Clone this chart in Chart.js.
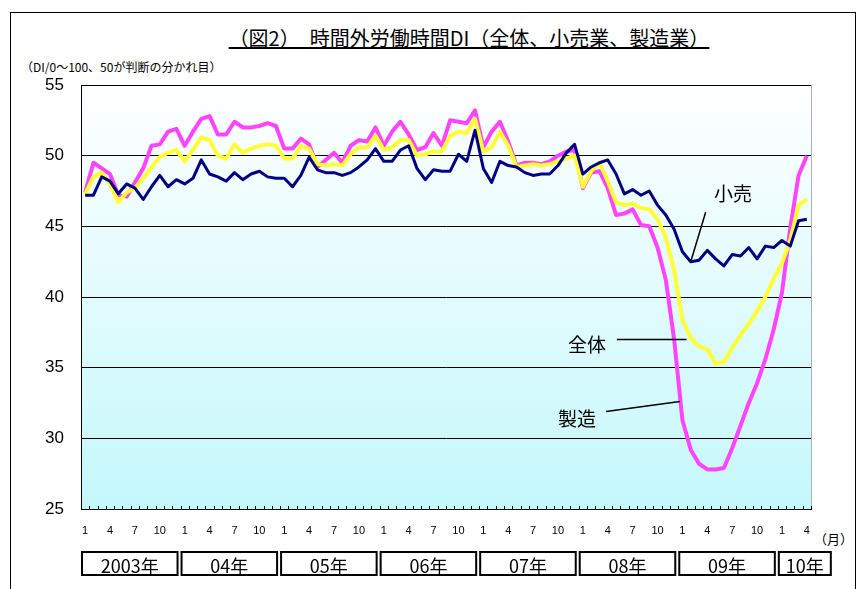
<!DOCTYPE html>
<html lang="ja">
<head>
<meta charset="UTF-8">
<title>時間外労働時間DI</title>
<script src="https://cdn.jsdelivr.net/npm/chart.js@4.4.1/dist/chart.umd.min.js"></script>
<style>
  html, body { margin: 0; padding: 0; background: #fff; }
  body { width: 861px; height: 589px; position: relative; overflow: hidden; font-family: "Noto Sans CJK JP", sans-serif; }
  #frame { position: absolute; left: 10px; top: 12px; width: 846px; height: 600px; border: 1px solid #000; border-bottom: none; box-sizing: border-box; }
  #title { position: absolute; left: 0; width: 938px; top: 25px; text-align: center; font-size: 20px; line-height: 26px; text-decoration: underline; color: #000; }
  #sub { position: absolute; left: 21px; top: 59px; font-size: 12px; line-height: 16px; color: #000; }
  #unit { position: absolute; left: 814px; top: 529px; font-size: 13px; color: #000; }
  canvas { position: absolute; left: 0; top: 0; }
</style>
</head>
<body>
<div id="frame"></div>
<div id="title">（図2）　時間外労働時間DI（全体、小売業、製造業）</div>
<div id="sub">（DI/0～100、50が判断の分かれ目）</div>
<div id="unit">（月）</div>
<canvas id="di-chart" width="861" height="589"></canvas>

<script>
  // 年の区切り（2003年1月〜2010年4月）
  const years = ['2003年', '04年', '05年', '06年', '07年', '08年', '09年', '10年'];
  const monthsInYear = [12, 12, 12, 12, 12, 12, 12, 4];
  const monthTicks = ['1', '4', '7', '10'];

  // 小売
  const retail = [
    47.2, 47.2, 48.5, 48.2, 47.3, 48.0, 47.7, 46.9, 47.8, 48.6, 47.8, 48.3,
    48.0, 48.4, 49.7, 48.7, 48.5, 48.2, 48.8, 48.3, 48.7, 48.9, 48.5, 48.4,
    48.4, 47.8, 48.6, 49.9, 49.0, 48.8, 48.8, 48.6, 48.8, 49.2, 49.7, 50.5,
    49.6, 49.6, 50.4, 50.7, 49.1, 48.3, 49.0, 48.9, 48.9, 50.1, 49.6, 51.8,
    49.1, 48.1, 49.6, 49.3, 49.2, 48.8, 48.6, 48.7, 48.7, 49.3, 50.2, 50.8,
    48.7, 49.2, 49.5, 49.7, 48.7, 47.3, 47.6, 47.2, 47.5, 46.5, 45.8, 44.8,
    43.2, 42.5, 42.6, 43.3, 42.7, 42.2, 43.0, 42.9, 43.5, 42.7, 43.6, 43.5,
    44.0, 43.6, 45.4, 45.5
  ];
  // 全体
  const overall = [
    47.3, 48.5, 48.8, 48.0, 46.7, 47.4, 47.7, 48.4, 49.2, 49.9, 50.2, 50.4,
    49.6, 50.4, 51.3, 51.1, 50.0, 49.8, 50.8, 50.2, 50.5, 50.7, 50.8, 50.7,
    49.8, 49.8, 50.7, 50.5, 49.4, 49.3, 49.4, 49.3, 50.1, 50.6, 50.6, 51.4,
    50.4, 50.6, 51.1, 51.1, 50.0, 50.1, 50.3, 50.3, 51.4, 51.7, 51.6, 52.6,
    50.3, 50.6, 51.7, 50.7, 49.2, 49.3, 49.4, 49.3, 49.4, 49.6, 49.8, 50.0,
    47.8, 48.9, 49.5, 48.2, 46.7, 46.5, 46.6, 46.3, 46.2, 45.5, 44.2, 41.9,
    38.4, 37.1, 36.5, 36.3, 35.3, 35.4, 36.4, 37.3, 38.1, 39.0, 40.0, 41.3,
    42.4, 44.0, 46.5, 46.9
  ];
  // 製造
  const manufacturing = [
    47.4, 49.5, 49.1, 48.7, 47.2, 47.1, 48.1, 49.1, 50.7, 50.8, 51.7, 51.9,
    50.7, 51.7, 52.6, 52.8, 51.5, 51.5, 52.4, 52.0, 52.0, 52.1, 52.3, 52.1,
    50.5, 50.5, 51.2, 50.8, 49.2, 49.7, 50.2, 49.5, 50.7, 51.1, 51.0, 52.0,
    50.7, 51.7, 52.4, 51.5, 50.4, 50.6, 51.6, 50.7, 52.5, 52.4, 52.3, 53.2,
    50.6, 51.7, 52.4, 51.0, 49.3, 49.5, 49.5, 49.4, 49.6, 50.0, 50.3, 50.4,
    47.7, 48.8, 48.9, 47.7, 45.8, 45.9, 46.2, 45.1, 45.0, 43.5, 41.2, 37.0,
    31.3, 29.2, 28.2, 27.8, 27.8, 27.9, 29.3, 30.9, 32.5, 33.9, 35.6, 37.7,
    40.3, 44.9, 48.6, 50.0
  ];

  // 月ラベル
  const labels = [];
  monthsInYear.forEach((n) => {
    for (let m = 1; m <= n; m++) labels.push(String(m));
  });

  // 系列名の吹き出し（引き出し線の始点・終点・文字位置は index/値 で指定）
  const callouts = [
    { text: '小売', from: [73, 42.5], to: [74.8, 46.0], at: [78.1, 47.3] },
    { text: '全体', from: [72.5, 37.0], to: [64.1, 37.0], at: [60.5, 36.6] },
    { text: '製造', from: [71.7, 32.6], to: [62.8, 31.9], at: [59.3, 31.4] },
  ];

  const areaPlugin = {
    id: 'area',
    beforeDatasetsDraw(chart) {
      const { ctx, chartArea: a } = chart;
      const g = ctx.createLinearGradient(0, a.top, 0, a.bottom);
      g.addColorStop(0, '#ffffff');
      g.addColorStop(1, '#c4f8fb');
      ctx.save();
      ctx.globalCompositeOperation = 'destination-over';
      ctx.fillStyle = g;
      ctx.fillRect(a.left, a.top, a.right - a.left, a.bottom - a.top);
      ctx.restore();
    },
    afterDatasetsDraw(chart) {
      const { ctx, chartArea: a, scales } = chart;
      const x = scales.x, y = scales.y;
      const cat = (a.right - a.left) / labels.length;
      const px = (i) => a.left + cat * (i + 0.5);
      ctx.save();
      // 右枠
      ctx.strokeStyle = '#b0b0b0';
      ctx.lineWidth = 1;
      ctx.beginPath();
      ctx.moveTo(a.right + 0.5, a.top);
      ctx.lineTo(a.right + 0.5, a.bottom);
      ctx.stroke();
      // 目盛り
      ctx.strokeStyle = '#000';
      ctx.beginPath();
      for (let i = 0; i <= labels.length; i++) {
        const xx = Math.round(a.left + cat * i) + 0.5;
        ctx.moveTo(xx, a.bottom);
        ctx.lineTo(xx, a.bottom - 3);
      }
      ctx.stroke();
      // 吹き出し
      ctx.lineWidth = 1.5;
      ctx.font = '19px "Noto Sans CJK JP"';
      ctx.fillStyle = '#000';
      ctx.textAlign = 'center';
      ctx.textBaseline = 'middle';
      callouts.forEach((c) => {
        ctx.beginPath();
        ctx.moveTo(px(c.from[0]), y.getPixelForValue(c.from[1]));
        ctx.lineTo(px(c.to[0]), y.getPixelForValue(c.to[1]));
        ctx.stroke();
        ctx.fillText(c.text, px(c.at[0]), y.getPixelForValue(c.at[1]));
      });
      ctx.restore();
    },
    afterDraw(chart) {
      const { ctx, chartArea: a } = chart;
      const cat = (a.right - a.left) / labels.length;
      ctx.save();
      ctx.strokeStyle = '#000';
      ctx.lineWidth = 2;
      ctx.font = '18px "Noto Sans CJK JP"';
      ctx.fillStyle = '#000';
      ctx.textAlign = 'center';
      ctx.textBaseline = 'alphabetic';
      let start = 0;
      years.forEach((yr, k) => {
        const left = a.left + cat * start;
        const w = Math.max(cat * monthsInYear[k], 56);
        const top = 552, h = 23;
        ctx.strokeRect(left + 1, top, w - 4, h);
        ctx.fillText(yr, left + w / 2 - 1, top + h - 2);
        start += monthsInYear[k];
      });
      ctx.restore();
    },
  };

  const ctx = document.getElementById('di-chart').getContext('2d');
  new Chart(ctx, {
    type: 'line',
    data: {
      labels,
      datasets: [
        { label: '小売', data: retail, borderColor: '#000080', borderWidth: 3, order: 0 },
        { label: '全体', data: overall, borderColor: '#ffff33', borderWidth: 4, order: 1 },
        { label: '製造', data: manufacturing, borderColor: '#ff44ff', borderWidth: 4, order: 2 },
      ].map((d) => ({ ...d, pointRadius: 0, tension: 0, fill: false, borderJoinStyle: 'round' })),
    },
    options: {
      responsive: false,
      animation: false,
      layout: { padding: { top: 85, right: 50, left: 0, bottom: 0 } },
      plugins: {
        legend: { display: false },
        tooltip: { enabled: false },
      },
      scales: {
        x: {
          offset: true,
          grid: { display: false, drawTicks: false },
          border: { color: '#000', width: 1 },
          afterFit: (s) => { s.height = 80; },
          ticks: {
            autoSkip: false,
            maxRotation: 0,
            padding: 15,
            color: '#000',
            font: { size: 11, family: 'Liberation Sans' },
            callback(val) {
              const l = this.getLabelForValue(val);
              return monthTicks.includes(l) ? l : '';
            },
          },
        },
        y: {
          min: 25,
          max: 55,
          grid: { color: '#000', lineWidth: 1, drawTicks: false },
          border: { color: '#000', width: 1 },
          afterFit: (s) => { s.width = 81; },
          ticks: {
            stepSize: 5,
            padding: 17,
            color: '#000',
            font: { size: 17, family: 'Liberation Sans' },
          },
        },
      },
    },
    plugins: [areaPlugin],
  });
</script>
</body>
</html>
